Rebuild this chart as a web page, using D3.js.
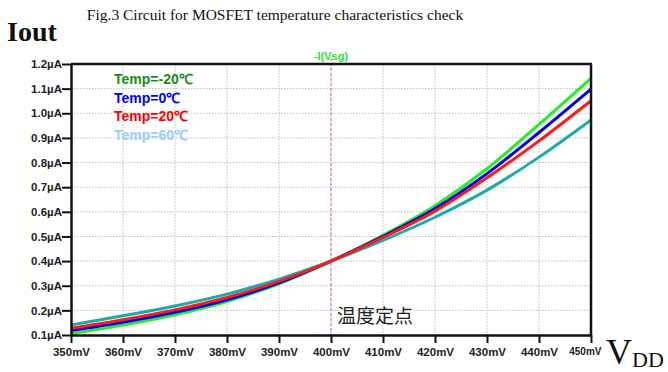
<!DOCTYPE html>
<html><head><meta charset="utf-8">
<script src="https://cdn.jsdelivr.net/npm/d3@7"></script>
<style>body{margin:0;background:#fff}svg{display:block}</style>
</head><body><svg id="c" width="668" height="372"></svg>
<script>
const vdd = [350,360,370,380,390,400,410,420,430,440,450];
const tempM20 = [0.105,0.140,0.182,0.236,0.308,0.400,0.505,0.625,0.775,0.955,1.142];
const temp0   = [0.118,0.152,0.192,0.243,0.312,0.400,0.500,0.613,0.755,0.922,1.098];
const temp20  = [0.127,0.162,0.202,0.252,0.318,0.400,0.496,0.603,0.738,0.888,1.051];
const temp60  = [0.141,0.178,0.218,0.266,0.327,0.400,0.484,0.578,0.688,0.822,0.973];
const yTicks = [0.1,0.2,0.3,0.4,0.5,0.6,0.7,0.8,0.9,1.0,1.1,1.2];
const legendLabels = ["Temp=-20℃","Temp=0℃","Temp=20℃","Temp=60℃"];
const legendColors = ["#1a8c1a","#0000ff","#ff0000","#99ccff"];
const lineColors = ["#22ee22","#0000ee","#ff1a1a","#1aacac"];
const seriesList = [tempM20,temp0,temp20,temp60];
const drawOrder = [0,1,3,2];

const svg = d3.select("#c");
const L=71,R=591,T=64,B=335;
const x = d3.scaleLinear().domain([350,450]).range([L,R]);
const y = d3.scaleLinear().domain([0.1,1.2]).range([B,T]);

// grid
const g = svg.append("g");
g.selectAll(".gx").data(vdd.slice(1,-1)).join("line")
 .attr("x1",d=>x(d)).attr("x2",d=>x(d)).attr("y1",T).attr("y2",B)
 .attr("stroke","#bdbdbd").attr("stroke-width",1).attr("stroke-dasharray","1.5,1.5");
g.selectAll(".gy").data(yTicks.slice(1,-1)).join("line")
 .attr("y1",d=>y(d)).attr("y2",d=>y(d)).attr("x1",L).attr("x2",R)
 .attr("stroke","#bdbdbd").attr("stroke-width",1).attr("stroke-dasharray","1.5,1.5");

// marker line
svg.append("line").attr("x1",x(400)).attr("x2",x(400)).attr("y1",T-6).attr("y2",B)
 .attr("stroke","#d08a8a").attr("stroke-width",1.2).attr("stroke-dasharray","3,2");

// curves
const line = d3.line().x((d,i)=>x(vdd[i])).y(d=>y(d)).curve(d3.curveMonotoneX);
drawOrder.forEach(k=>{
  svg.append("path").attr("d",line(seriesList[k])).attr("fill","none")
   .attr("stroke",lineColors[k]).attr("stroke-width",3).attr("stroke-linejoin","round");
});

// frame
svg.append("line").attr("x1",L).attr("x2",R+1).attr("y1",T).attr("y2",T).attr("stroke","#111").attr("stroke-width",2.5);
svg.append("line").attr("x1",R).attr("x2",R).attr("y1",T).attr("y2",B).attr("stroke","#111").attr("stroke-width",2.5);

// axes
const fontTick = "bold 11.5px 'Liberation Sans', Arial, sans-serif";
const ax = svg.append("g").attr("transform",`translate(0,${B})`)
 .call(d3.axisBottom(x).tickValues(vdd).tickFormat(d=>d+"mV").tickSize(8).tickSizeOuter(0));
const ay = svg.append("g").attr("transform",`translate(${L},0)`)
 .call(d3.axisLeft(y).tickValues(yTicks).tickFormat(d=>d.toFixed(1)+"µA").tickSize(9).tickSizeOuter(0));
[ax,ay].forEach(a=>{
  a.select(".domain").attr("stroke","#111").attr("stroke-width",2.5);
  a.selectAll(".tick line").attr("stroke","#111").attr("stroke-width",2);
  a.selectAll("text").style("font",fontTick).attr("fill","#222");
});
ax.selectAll("text").attr("dy","0.95em").attr("y",10);
ax.selectAll(".tick").filter(d=>d===450).select("text").attr("text-anchor","end").attr("x",10).style("font","bold 10px 'Liberation Sans', Arial, sans-serif");
ay.selectAll("text").attr("x",-9);

// legend
svg.selectAll(".leg").data(legendLabels).join("text")
 .attr("x",114).attr("y",(d,i)=>84+i*18.6)
 .attr("fill",(d,i)=>legendColors[i])
 .style("font","bold 14px 'Liberation Sans', Arial, sans-serif")
 .text(d=>d);

// texts
svg.append("text").attr("x",275).attr("y",20).attr("text-anchor","middle")
 .style("font","15.5px 'Liberation Serif', 'Times New Roman', serif").attr("fill","#111")
 .text("Fig.3 Circuit for MOSFET temperature characteristics check");
svg.append("text").attr("x",7).attr("y",41)
 .style("font","bold 28px 'Liberation Serif', 'Times New Roman', serif").attr("fill","#111").text("Iout");
svg.append("text").attr("x",331).attr("y",60).attr("text-anchor","middle")
 .style("font","bold 11px 'Liberation Sans', Arial, sans-serif").attr("fill","#33dd33").text("-I(Vsg)");
svg.append("text").attr("x",337).attr("y",323)
 .style("font","19px 'Noto Sans CJK SC', sans-serif").attr("fill","#222").text("温度定点");
const vt = svg.append("text").attr("x",606).attr("y",364)
 .style("font","36px 'Liberation Serif', 'Times New Roman', serif").attr("fill","#111");
vt.append("tspan").text("V");
vt.append("tspan").attr("dy",3).style("font-size","22px").text("DD");
</script></body></html>
